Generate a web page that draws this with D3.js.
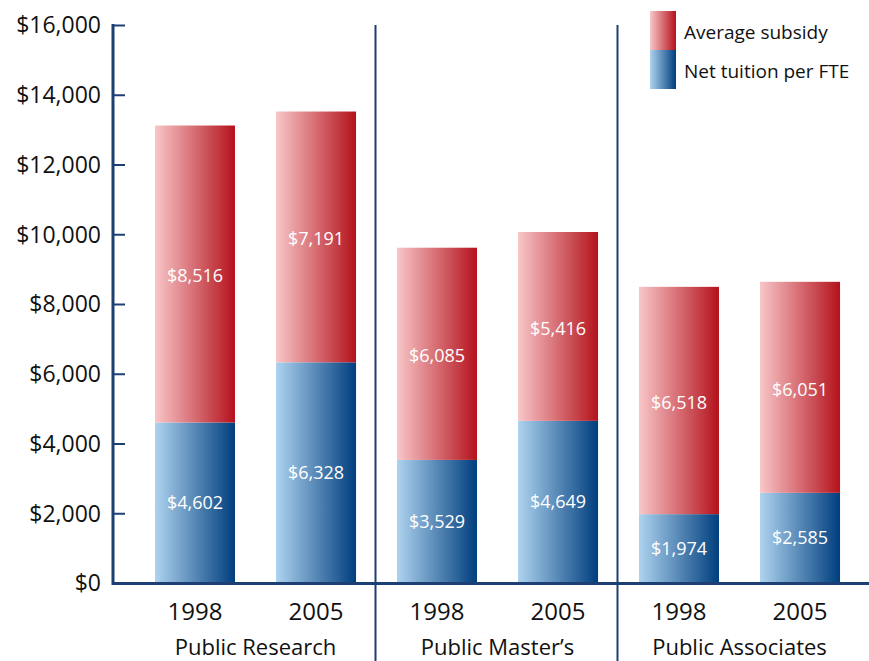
<!DOCTYPE html>
<html>
<head>
<meta charset="utf-8">
<script src="https://cdn.jsdelivr.net/npm/d3@7"></script>
<style>
  body { margin: 0; background: #fff; }
  svg text { font-family: "Open Sans", "Noto Sans", sans-serif; }
</style>
</head>
<body>
<svg width="869" height="661"></svg>
<script>
  // DATA
  var groups = ["Public Research", "Public Master\u2019s", "Public Associates"];
  var years = ["1998", "2005"];
  var tuition = [[4602, 6328], [3529, 4649], [1974, 2585]];
  var subsidy = [[8516, 7191], [6085, 5416], [6518, 6051]];
  var yTicks = [0, 2000, 4000, 6000, 8000, 10000, 12000, 14000, 16000];
  var legendLabels = ["Average subsidy", "Net tuition per FTE"];

  var svg = d3.select("svg");
  var axisColor = "#1d3f73";

  var x0 = d3.scaleBand().domain(groups).range([134.5, 860.5]).padding(0);
  var x1 = d3.scaleBand().domain(years).range([0, x0.bandwidth()])
    .paddingInner(0.339).paddingOuter(0.169);
  var y = d3.scaleLinear().domain([0, 16000]).range([583, 25]);

  // gradients
  var defs = svg.append("defs");
  function grad(id, c0, c1) {
    var g = defs.append("linearGradient").attr("id", id)
      .attr("x1", "0%").attr("x2", "100%").attr("y1", "0%").attr("y2", "0%");
    g.append("stop").attr("offset", "0%").attr("stop-color", c0);
    g.append("stop").attr("offset", "100%").attr("stop-color", c1);
  }
  grad("gRed", "#f8c6c8", "#b4121c");
  grad("gBlue", "#aed3ef", "#003e7e");

  // flatten
  var rows = [];
  groups.forEach(function (g, gi) {
    years.forEach(function (yr, yi) {
      rows.push({ group: g, year: yr, tuition: tuition[gi][yi], subsidy: subsidy[gi][yi] });
    });
  });

  var bars = svg.append("g").selectAll("g.bar")
    .data(rows)
    .enter().append("g")
      .attr("class", "bar")
      .attr("transform", function (d) { return "translate(" + (x0(d.group) + x1(d.year)) + ",0)"; });

  bars.append("rect")
    .attr("y", function (d) { return y(d.tuition); })
    .attr("width", x1.bandwidth())
    .attr("height", function (d) { return y(0) - y(d.tuition); })
    .attr("fill", "url(#gBlue)");

  bars.append("rect")
    .attr("y", function (d) { return y(d.tuition + d.subsidy); })
    .attr("width", x1.bandwidth())
    .attr("height", function (d) { return y(d.tuition) - y(d.tuition + d.subsidy); })
    .attr("fill", "url(#gRed)");

  var fmt = d3.format("$,");
  bars.append("text")
    .attr("x", x1.bandwidth() / 2)
    .attr("y", function (d) { return (y(0) + y(d.tuition)) / 2; })
    .attr("dy", "0.35em")
    .attr("text-anchor", "middle")
    .attr("fill", "#fff")
    .style("font-size", "18px")
    .text(function (d) { return fmt(d.tuition); });

  bars.append("text")
    .attr("x", x1.bandwidth() / 2)
    .attr("y", function (d) { return (y(d.tuition) + y(d.tuition + d.subsidy)) / 2 + 2; })
    .attr("dy", "0.35em")
    .attr("text-anchor", "middle")
    .attr("fill", "#fff")
    .style("font-size", "18px")
    .text(function (d) { return fmt(d.subsidy); });

  // y axis
  var yAxis = svg.append("g")
    .attr("transform", "translate(113,0)")
    .call(d3.axisRight(y).tickValues(yTicks).tickSize(12).tickFormat(""));
  yAxis.select(".domain").remove();
  yAxis.selectAll("line").attr("stroke", axisColor).attr("stroke-width", 2);

  svg.append("g").selectAll("text.ylab")
    .data(yTicks)
    .enter().append("text")
      .attr("x", 101)
      .attr("y", function (d) { return y(d); })
      .attr("dy", "0.36em")
      .attr("text-anchor", "end")
      .attr("fill", "#111")
      .style("font-size", "23px")
      .text(function (d) { return fmt(d); });

  svg.append("line")
    .attr("x1", 113).attr("x2", 113).attr("y1", 24).attr("y2", 585)
    .attr("stroke", axisColor).attr("stroke-width", 3);
  svg.append("line")
    .attr("x1", 112).attr("x2", 869).attr("y1", 583.5).attr("y2", 583.5)
    .attr("stroke", axisColor).attr("stroke-width", 3);

  // dividers between groups
  svg.append("g").selectAll("line.div")
    .data(groups.slice(1))
    .enter().append("line")
      .attr("x1", function (d) { return x0(d) - 1; })
      .attr("x2", function (d) { return x0(d) - 1; })
      .attr("y1", 25).attr("y2", 661)
      .attr("stroke", axisColor).attr("stroke-width", 2);

  // year labels and group labels
  bars.append("text")
    .attr("x", x1.bandwidth() / 2)
    .attr("y", 620)
    .attr("text-anchor", "middle")
    .attr("fill", "#111")
    .style("font-size", "24px")
    .text(function (d) { return d.year; });

  svg.append("g").selectAll("text.grp")
    .data(groups)
    .enter().append("text")
      .attr("x", function (d) { return x0(d) + x0.bandwidth() / 2; })
      .attr("y", 655)
      .attr("text-anchor", "middle")
      .attr("fill", "#111")
      .style("font-size", "22px")
      .text(function (d) { return d; });

  // legend
  var legend = svg.append("g").attr("transform", "translate(650,11)");
  legend.selectAll("rect")
    .data(["url(#gRed)", "url(#gBlue)"])
    .enter().append("rect")
      .attr("x", 0)
      .attr("y", function (d, i) { return i * 39; })
      .attr("width", 26)
      .attr("height", 39)
      .attr("fill", function (d) { return d; });
  legend.selectAll("text")
    .data(legendLabels)
    .enter().append("text")
      .attr("x", 34)
      .attr("y", function (d, i) { return i * 39 + 21; })
      .attr("dy", "0.35em")
      .attr("fill", "#111")
      .style("font-size", "19px")
      .text(function (d) { return d; });
</script>
</body>
</html>
